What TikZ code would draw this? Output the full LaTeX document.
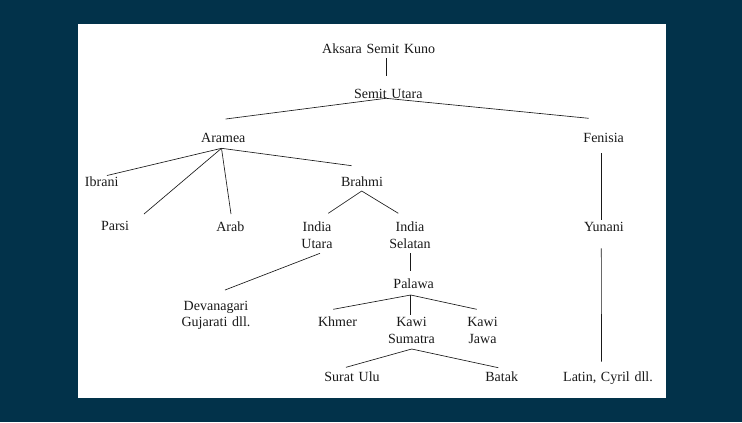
\documentclass[tikz,border=0pt]{standalone}
\usepackage{fontspec}
\setmainfont{Liberation Serif}
\definecolor{navybg}{RGB}{2,50,74}
\definecolor{inkc}{RGB}{25,25,25}
\newcommand{\lblfont}{\fontsize{14bp}{16.8bp}\selectfont\spaceskip=0.34em\relax}
\begin{document}
\begin{tikzpicture}[x=1bp,y=-1bp,
  lbl/.style={anchor=base,inner sep=0pt,align=center,text=inkc,font=\lblfont},
  link/.style={draw=inkc,line width=0.65bp}]
\fill[navybg] (0,0) rectangle (742,422);
\fill[white] (77.5,23.5) rectangle (666,397.5);
\useasboundingbox (0,0) rectangle (742,422);
% text nodes (two-line nodes: base = last line)
\node[lbl] (aksara) at (378.7,53.5) {Aksara Semit Kuno};
\node[lbl] (semit) at (388.3,98.5) {Semit Utara};
\node[lbl] (aramea) at (223.3,142.5) {Aramea};
\node[lbl] (fenisia) at (603.7,142.5) {Fenisia};
\node[lbl] (ibrani) at (101.7,186.5) {Ibrani};
\node[lbl] (brahmi) at (362,186.5) {Brahmi};
\node[lbl] (parsi) at (115,230.5) {Parsi};
\node[lbl] (arab) at (230.3,231) {Arab};
\node[lbl] (indiau) at (317,248) {India\\Utara};
\node[lbl] (indias) at (410,248) {India\\Selatan};
\node[lbl] (yunani) at (604,231.5) {Yunani};
\node[lbl] (palawa) at (413.7,288) {Palawa};
\node[lbl] (devanagari) at (216,326.8) {Devanagari\\Gujarati dll.};
\node[lbl] (khmer) at (337.5,326.5) {Khmer};
\node[lbl] (kawis) at (411.5,343.3) {Kawi\\Sumatra};
\node[lbl] (kawij) at (482.5,343.3) {Kawi\\Jawa};
\node[lbl] (surat) at (352,381.5) {Surat Ulu};
\node[lbl] (batak) at (501.7,381.5) {Batak};
\node[lbl] (latin) at (608,381.5) {Latin, Cyril dll.};
% connector ports
\coordinate (aksara-o) at (386,58.3);
\coordinate (semit-i) at (386,75.7);
\coordinate (semit-o) at (386,98.3);
\coordinate (aramea-i) at (225.7,119);
\coordinate (fenisia-i) at (588.7,118.3);
\coordinate (aramea-o) at (221.5,148.3);
\coordinate (ibrani-i) at (107,175.5);
\coordinate (parsi-i) at (144,214);
\coordinate (arab-i) at (231,214);
\coordinate (brahmi-i) at (351.7,165.7);
\coordinate (brahmi-o) at (361.7,191);
\coordinate (indiau-i) at (328.3,213.3);
\coordinate (indias-i) at (398.3,213.3);
\coordinate (indiau-o) at (320,253.3);
\coordinate (devanagari-i) at (225,290);
\coordinate (indias-o) at (410.7,253.3);
\coordinate (palawa-i) at (410.7,271);
\coordinate (palawa-o) at (410.7,295);
\coordinate (khmer-i) at (333.3,309.3);
\coordinate (kawis-i) at (410.7,315);
\coordinate (kawij-i) at (476.7,309.3);
\coordinate (kawis-o) at (411.7,349);
\coordinate (surat-i) at (346,367.3);
\coordinate (batak-i) at (498.3,367.7);
\coordinate (fenisia-o) at (601.3,153.3);
\coordinate (yunani-i) at (601.3,220);
\coordinate (yunani-o) at (601.3,248.3);
\coordinate (latin-i) at (601.5,361.7);
% connectors
\draw[link] (aksara-o) -- (semit-i);
\draw[link] (semit-o) -- (aramea-i);
\draw[link] (semit-o) -- (fenisia-i);
\draw[link] (aramea-o) -- (ibrani-i);
\draw[link] (aramea-o) -- (parsi-i);
\draw[link] (aramea-o) -- (arab-i);
\draw[link] (aramea-o) -- (brahmi-i);
\draw[link] (brahmi-o) -- (indiau-i);
\draw[link] (brahmi-o) -- (indias-i);
\draw[link] (indiau-o) -- (devanagari-i);
\draw[link] (indias-o) -- (palawa-i);
\draw[link] (palawa-o) -- (khmer-i);
\draw[link] (palawa-o) -- (kawis-i);
\draw[link] (palawa-o) -- (kawij-i);
\draw[link] (kawis-o) -- (surat-i);
\draw[link] (kawis-o) -- (batak-i);
\draw[link] (fenisia-o) -- (yunani-i);
\draw[link] (yunani-o) -- (latin-i);
\end{tikzpicture}
\end{document}
